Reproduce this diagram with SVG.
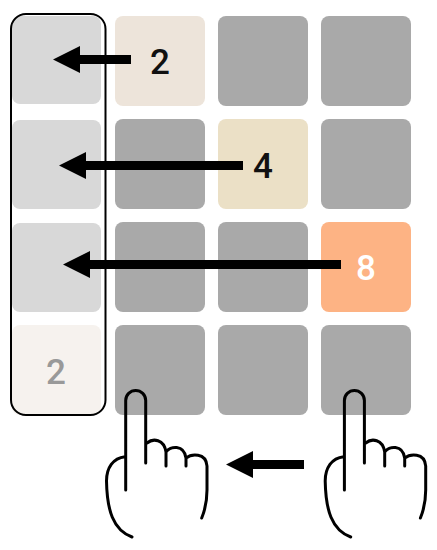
<svg xmlns="http://www.w3.org/2000/svg" width="437" height="550" viewBox="0 0 437 550">
<style>
.e{fill:#a9a9a9}.l{fill:#d8d8d8}
text{font-family:Roboto,"Liberation Sans",sans-serif;font-weight:500;font-size:35px;text-anchor:middle}
.h{fill:none;stroke:#000;stroke-width:3;stroke-linecap:round;stroke-linejoin:round}
.a{fill:#000;stroke:none}
</style>
<defs>
<g id="hand"><path class="h" d="M125.700 490V400.500A10 10 0 0 1 145.700 400.500V463M147 443C153 438 164 439 166 452V466M166 452C170 446 184 444 186 458V466M186 458C191 454 206 452 207 466V490C207 500 205 510 201.700 518M125 456.700C113 458 106.500 468 106.500 481C107 510 113 530 132 537"/></g>
</defs>
<g id="cell-0-0"><rect class="l" x="12" y="16" width="89" height="88" rx="8"/></g>
<g id="cell-1-0"><rect class="l" x="12" y="120" width="89" height="89" rx="8"/></g>
<g id="cell-2-0"><rect class="l" x="12" y="223" width="89" height="89" rx="8"/></g>
<g id="cell-3-0"><rect x="12" y="325" width="89" height="90" rx="8" fill="#f6f2ee"/><text x="56" y="384" fill="#999">2</text></g>
<g id="cell-0-1"><rect x="115" y="16" width="90" height="90" rx="8" fill="#ede4da"/><text x="160" y="74" fill="#111">2</text></g>
<g id="cell-0-2"><rect class="e" x="218" y="16" width="90" height="90" rx="8"/></g>
<g id="cell-0-3"><rect class="e" x="321" y="16" width="90" height="90" rx="8"/></g>
<g id="cell-1-1"><rect class="e" x="115" y="119" width="90" height="90" rx="8"/></g>
<g id="cell-1-2"><rect x="218" y="119" width="90" height="90" rx="8" fill="#ebe0c6"/><text x="263" y="178" fill="#111">4</text></g>
<g id="cell-1-3"><rect class="e" x="321" y="119" width="90" height="90" rx="8"/></g>
<g id="cell-2-1"><rect class="e" x="115" y="222" width="90" height="90" rx="8"/></g>
<g id="cell-2-2"><rect class="e" x="218" y="222" width="90" height="90" rx="8"/></g>
<g id="cell-2-3"><rect x="321" y="222" width="90" height="90" rx="8" fill="#fdb384"/><text x="366" y="280" fill="#fff">8</text></g>
<g id="cell-3-1"><rect class="e" x="115" y="325" width="90" height="90" rx="8"/></g>
<g id="cell-3-2"><rect class="e" x="218" y="325" width="90" height="90" rx="8"/></g>
<g id="cell-3-3"><rect class="e" x="321" y="325" width="90" height="90" rx="8"/></g>
<g id="column-outline"><rect x="11" y="14" width="94.500" height="401" rx="15" fill="none" stroke="#000" stroke-width="2"/></g>
<g id="connectors">
<path class="a" d="M53 59.500L80 46V55H131V64H80V73Z"/>
<path class="a" d="M59 165.500L86 152V161H243V170H86V179Z"/>
<path class="a" d="M63 264.500L90 251V260H341V269H90V278Z"/>
<path class="a" d="M226 464.500L253 451V460H304V469H253V478Z"/>
</g>
<g id="hand-left"><use href="#hand"/></g>
<g id="hand-right"><use href="#hand" x="218.700"/></g>
</svg>
